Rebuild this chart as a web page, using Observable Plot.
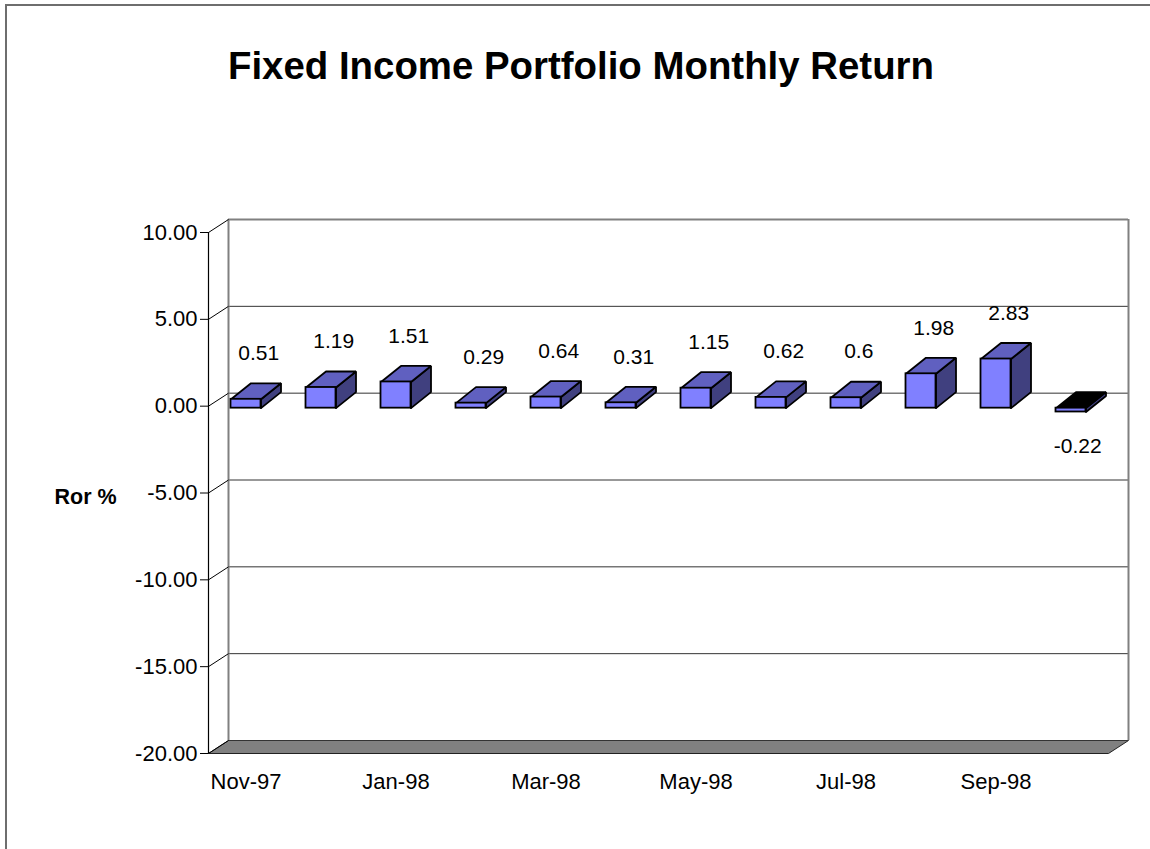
<!DOCTYPE html>
<html>
<head>
<meta charset="utf-8">
<script src="https://cdn.jsdelivr.net/npm/d3@7"></script>
<script src="https://cdn.jsdelivr.net/npm/@observablehq/plot@0.6"></script>
<style>
  html, body { margin: 0; padding: 0; background: #fff; overflow: hidden; width: 1150px; height: 849px; }
  #frame { position: absolute; left: 5px; top: 4px; width: 1300px; height: 1000px;
           border-left: 2px solid #6e6e6e; border-top: 2px solid #6e6e6e; box-sizing: border-box; }
  #title { position: absolute; left: 581px; top: 47px; transform: translateX(-50%); white-space: nowrap;
           font-family: "Liberation Sans", Arial, sans-serif; font-weight: bold; font-size: 38.4px; line-height: 38px; color: #000; }
  #chart { position: absolute; left: 0; top: 130px; }
</style>
</head>
<body>
<div id="frame"></div>
<div id="title">Fixed Income Portfolio Monthly Return</div>
<div id="chart"></div>
<script>
// ---- data ----
const months = ["Nov-97","Dec-97","Jan-98","Feb-98","Mar-98","Apr-98","May-98","Jun-98","Jul-98","Aug-98","Sep-98","Oct-98"];
const returns = [0.51, 1.19, 1.51, 0.29, 0.64, 0.31, 1.15, 0.62, 0.6, 1.98, 2.83, -0.22];
const yTicks = [-20, -15, -10, -5, 0, 5, 10];
const xTickMonths = ["Nov-97","Jan-98","Mar-98","May-98","Jul-98","Sep-98"];
const yLabel = "Ror %";

// ---- geometry (in scale units) ----
const W = 1150, H = 719, mL = 208, mR = 42, mT = 102, mB = 96;
const ux = (W - mL - mR) / months.length;          // px per category
const uy = (H - mT - mB) / (10 - (-20));             // px per % unit
const WDX = 20 / ux, WDY = 13 / uy;                  // wall depth
const BDX = 20 / ux, BDY = 16 / uy;                  // bar depth
const HW = 15 / ux;                                  // bar half width

const bars = months.map((m, i) => ({m, i, v: returns[i], c: i + 0.5}));

const tops = [], sides = [], negTops = [];
for (const b of bars) {
  const t = Math.max(b.v, 0), lo = Math.min(b.v, 0);
  const top = [[b.c - HW, t], [b.c + HW, t], [b.c + HW + BDX, t + BDY], [b.c - HW + BDX, t + BDY], [b.c - HW, t]];
  const side = [[b.c + HW, lo], [b.c + HW, t], [b.c + HW + BDX, t + BDY], [b.c + HW + BDX, lo + BDY], [b.c + HW, lo]];
  (b.v < 0 ? negTops : tops).push(...top.map(([x, y]) => ({id: b.m, x, y})));
  sides.push(...side.map(([x, y]) => ({id: b.m, x, y})));
}
const n = months.length;
const floor = [[0, -20], [n, -20], [n + WDX, -20 + WDY], [WDX, -20 + WDY], [0, -20]].map(([x, y]) => ({x, y}));

const font = "'Liberation Sans', Arial, sans-serif";
const barStroke = {stroke: "#000", strokeWidth: 1.8, strokeLinejoin: "miter", dy: 2};

const chart = Plot.plot({
  width: W, height: H,
  marginLeft: mL, marginRight: mR, marginTop: mT, marginBottom: mB,
  style: {fontFamily: font, fontSize: "21px", color: "#000", background: "transparent", overflow: "visible"},
  x: {type: "linear", domain: [0, n]},
  y: {type: "linear", domain: [-20, 10]},
  marks: [
    // floor
    Plot.line(floor, {x: "x", y: "y", fill: "#808080", stroke: "#222", strokeWidth: 1}),
    // back wall gridlines
    Plot.ruleY(yTicks, {y: d => d + WDY, x1: WDX, x2: n + WDX, stroke: d => d === 10 ? "#808080" : "#333", strokeWidth: d => d === 10 ? 2 : 1}),
    Plot.ruleX([WDX, n + WDX], {y1: -20 + WDY, y2: 10 + WDY, stroke: "#808080", strokeWidth: 2}),
    // side wall edges
    Plot.link(yTicks, {x1: 0, y1: d => d, x2: WDX, y2: d => d + WDY, stroke: "#000", strokeWidth: 1}),
    Plot.ruleX([0], {y1: -20, y2: 10, stroke: "#000", strokeWidth: 1.2}),
    // bars
    Plot.line(sides, {x: "x", y: "y", z: "id", fill: "#40407f", ...barStroke}),
    Plot.line(tops, {x: "x", y: "y", z: "id", fill: "#6060c0", ...barStroke}),
    Plot.line(negTops, {x: "x", y: "y", z: "id", fill: "#000", ...barStroke}),
    Plot.rect(bars, {x1: d => d.c - HW, x2: d => d.c + HW, y1: 0, y2: "v", fill: "#8080ff", ...barStroke}),
    // value labels
    Plot.text(bars.filter(d => d.v >= 0), {x: d => d.c + 0.17, y: "v", text: d => String(d.v), dy: -44, fontSize: 21}),
    Plot.text(bars.filter(d => d.v < 0), {x: d => d.c + 0.09, y: 0, text: d => String(d.v), dy: 40, fontSize: 21}),
    // axes
    Plot.axisY(yTicks, {anchor: "left", tickSize: 8, tickPadding: 3, tickFormat: d => d.toFixed(2), fontSize: 22, label: null}),
    Plot.axisX(xTickMonths.map(m => months.indexOf(m) + 0.5), {anchor: "bottom", tickSize: 0, tickPadding: 20, tickFormat: d => months[Math.floor(d)], fontSize: 22, label: null}),
    Plot.text([yLabel], {frameAnchor: "left", dx: -154, dy: 4, textAnchor: "start", fontWeight: "bold", fontSize: 21.5})
  ]
});
document.getElementById("chart").appendChild(chart);
</script>
</body>
</html>
